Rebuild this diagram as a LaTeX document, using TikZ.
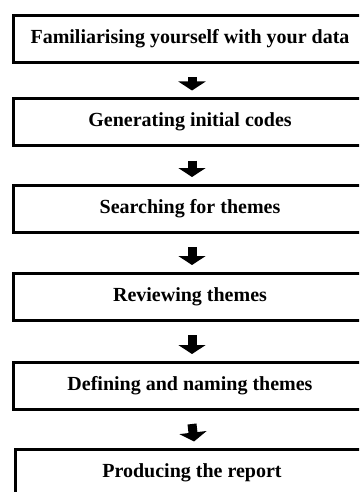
\documentclass[tikz,border=0pt]{standalone}
\usepackage{fontspec}
\setmainfont{Liberation Serif}
\usetikzlibrary{arrows.meta}
\begin{document}
\begin{tikzpicture}[x=1pt,y=-1pt,
  stepbox/.style={draw=black, line width=3pt, minimum width=353pt, minimum height=47pt,
    inner sep=0pt, font=\bfseries\fontsize{20}{22}\selectfont},
  flow/.style={line width=9pt, -{Triangle[width=27pt,length=9pt]}}]
\useasboundingbox (0,0) rectangle (359,492);
\clip (0,0) rectangle (359,492);
\node[stepbox] (b1) at (190,39)    {Familiarising yourself with your data};
\node[stepbox] (b2) at (190,122)   {Generating initial codes};
\node[stepbox] (b3) at (190,208.5) {Searching for themes};
\node[stepbox] (b4) at (190,296.5) {Reviewing themes};
\node[stepbox] (b5) at (190,385.5) {Defining and naming themes};
\node[stepbox] (b6) at (192,473)   {Producing the report};
\foreach \a/\b in {b1/b2,b2/b3,b3/b4,b4/b5,b5/b6}
  \draw[flow] ([xshift=2pt,yshift=-13.5pt]\a.south) -- ([xshift=2pt,yshift=6.5pt]\b.north);
\end{tikzpicture}
\end{document}
